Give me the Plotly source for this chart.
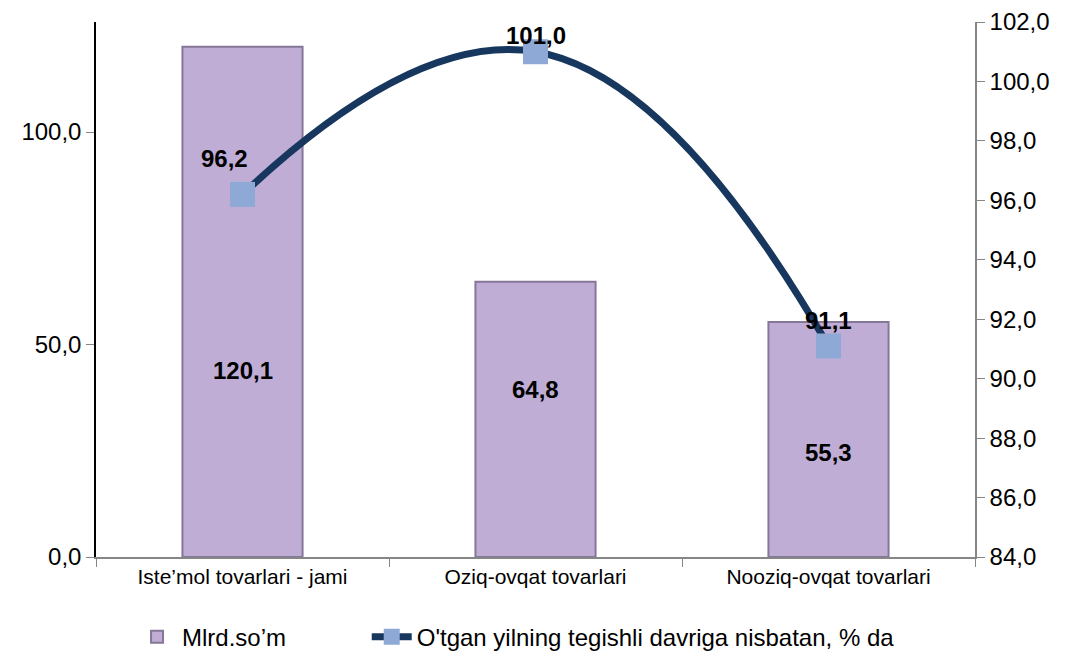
import plotly.graph_objects as go

categories = ["Iste\u2019mol tovarlari - jami", "Oziq-ovqat tovarlari", "Nooziq-ovqat tovarlari"]
values_mlrd = [120.1, 64.8, 55.3]
values_pct = [96.2, 101.0, 91.1]
bar_name = "Mlrd.so\u2019m"
line_name = "O'tgan yilning tegishli davriga nisbatan, % da"
left_ticks = [0, 50, 100]
right_ticks = [84, 86, 88, 90, 92, 94, 96, 98, 100, 102]

# label placement (style only)
bar_label_y = [44, 39.5, 24.7]

def fmt(v):
    return f"{v:.1f}".replace(".", ",")

fig = go.Figure()
fig.add_trace(go.Bar(
    x=categories, y=values_mlrd, name=bar_name, width=0.41,
    marker=dict(color="#BFADD6", line=dict(color="#857797", width=2)),
    yaxis="y", legend="legend",
))
fig.add_trace(go.Scatter(
    x=categories, y=values_pct, name=line_name, mode="lines+markers",
    line=dict(color="#17375E", width=7, shape="spline", smoothing=1.3),
    marker=dict(symbol="square", size=25, color="#8EA9D6", line=dict(width=0)),
    yaxis="y2", legend="legend2",
))

font_label = dict(family="Liberation Sans, Arial", size=24, color="black")
for c, v, ly in zip(categories, values_mlrd, bar_label_y):
    fig.add_annotation(x=c, y=ly, xref="x", yref="y", text=f"<b>{fmt(v)}</b>",
                       showarrow=False, font=font_label)
offsets = [36, 16, 25]
for c, v, off in zip(categories, values_pct, offsets):
    fig.add_annotation(x=c, y=v, xref="x", yref="y2", text=f"<b>{fmt(v)}</b>",
                       showarrow=False, font=font_label, yshift=off,
                       xshift=-18 if c == categories[0] else 0)

tickfont = dict(family="Liberation Sans, Arial", size=24, color="black")
legfont = dict(family="Liberation Sans, Arial", size=24, color="black")
fig.update_layout(
    width=1061, height=647,
    margin=dict(l=88, r=94, t=14, b=98, autoexpand=False),
    plot_bgcolor="white", paper_bgcolor="white",
    separators=", ",
    showlegend=True,
    legend=dict(orientation="h", x=0.041, y=-0.15, xanchor="left", yanchor="middle",
                font=legfont, itemwidth=40, bgcolor="rgba(0,0,0,0)"),
    legend2=dict(orientation="h", x=0.308, y=-0.15, xanchor="left", yanchor="middle",
                 font=legfont, itemwidth=40, bgcolor="rgba(0,0,0,0)"),
    xaxis=dict(type="category", showline=True, linecolor="#868686", linewidth=1.5,
               ticks="outside", ticklen=8, tickcolor="#868686", tickson="boundaries",
               tickfont=dict(family="Liberation Sans, Arial", size=21, color="black"),
               showgrid=False, range=[-0.5, 2.5], automargin=False),
    yaxis=dict(range=[0, 125.9], tickvals=left_ticks, ticktext=[fmt(t) for t in left_ticks],
               showline=True, linecolor="black", linewidth=1.5, ticks="outside", ticklen=8,
               tickcolor="#868686", tickfont=tickfont, showgrid=False, zeroline=False,
               automargin=False),
    yaxis2=dict(range=[84, 102], tickvals=right_ticks, ticktext=[fmt(t) for t in right_ticks],
                overlaying="y", side="right", showline=True, linecolor="#868686", linewidth=1.5,
                ticks="outside", ticklen=8, tickcolor="#868686", tickfont=tickfont,
                showgrid=False, zeroline=False, automargin=False),
)
fig.write_html("out.html")
